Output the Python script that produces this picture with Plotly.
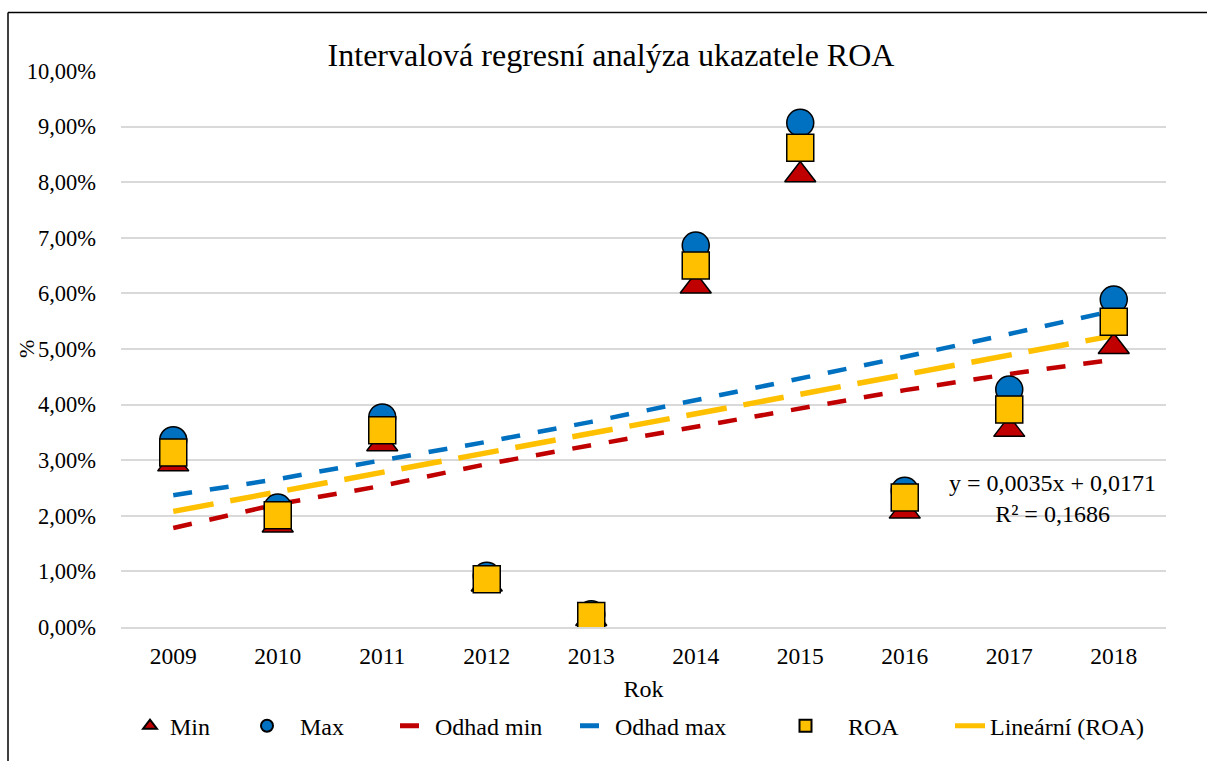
import numpy as np
import plotly.graph_objects as go

years = ["2009", "2010", "2011", "2012", "2013", "2014", "2015", "2016", "2017", "2018"]
roa_min = [0.0293, 0.0183, 0.0329, 0.0077, 0.0015, 0.0613, 0.0813, 0.0208, 0.0355, 0.0504]
roa_max = [0.0336, 0.0215, 0.0377, 0.0092, 0.0023, 0.0686, 0.0907, 0.0245, 0.0427, 0.0589]
roa = [0.0314, 0.0201, 0.0354, 0.0086, 0.0020, 0.0650, 0.0862, 0.0233, 0.0391, 0.0549]
odhad_min = [0.0178, 0.0221, 0.0254, 0.0293, 0.0327, 0.0360, 0.0393, 0.0426, 0.0455, 0.0481]
odhad_max = [0.0237, 0.0266, 0.0300, 0.0333, 0.0369, 0.0408, 0.0445, 0.0486, 0.0527, 0.0569]
y_ticks = [i / 100 for i in range(0, 11)]
equation_text = "y = 0,0035x + 0,0171<br>R² = 0,1686"

RED = "#C00000"
BLUE = "#0070C0"
YEL = "#FFC000"
FONT = "Liberation Serif, Times New Roman, serif"

W, H = 1207, 761
ML, MR, MT, MB = 121, 41, 71, 129
PW = W - ML - MR
PH = H - MT - MB

# linear trendline of ROA (like Excel), x = 1..n
xn = np.arange(1, len(roa) + 1)
k, q = np.polyfit(xn, roa, 1)
roa_trend = list(k * xn + q)

fig = go.Figure()

fig.add_trace(go.Scatter(x=years, y=odhad_min, mode="lines", name="Odhad min", legend="legend3",
                         line=dict(color=RED, width=4.5, dash="19px,18px")))
fig.add_trace(go.Scatter(x=years, y=odhad_max, mode="lines", name="Odhad max", legend="legend4",
                         line=dict(color=BLUE, width=4.5, dash="19px,18px")))
fig.add_trace(go.Scatter(x=years, y=roa_trend, mode="lines", name="Lineární (ROA)", legend="legend6",
                         line=dict(color=YEL, width=5.5, dash="41px,17px")))
fig.add_trace(go.Scatter(x=years, y=roa_min, mode="markers", name="Min", legend="legend",
                         marker=dict(symbol="triangle-up", size=27, color=RED,
                                     line=dict(color="black", width=1.5))))
fig.add_trace(go.Scatter(x=years, y=roa_max, mode="markers", name="Max", legend="legend2",
                         marker=dict(symbol="circle", size=27, color=BLUE,
                                     line=dict(color="black", width=1.5))))
fig.add_trace(go.Scatter(x=years, y=roa, mode="markers", name="ROA", legend="legend5",
                         marker=dict(symbol="square", size=27, color=YEL,
                                     line=dict(color="black", width=1.5))))


def leg(left_px, itemwidth=30):
    return dict(orientation="h", x=(left_px - ML) / PW, xanchor="left",
                y=(H - MB - 732) / PH, yanchor="middle",
                font=dict(family=FONT, size=24), itemsizing="constant",
                bgcolor="rgba(0,0,0,0)", borderwidth=0, itemwidth=itemwidth)


fig.update_layout(
    width=W, height=H,
    margin=dict(l=ML, r=MR, t=MT, b=MB),
    paper_bgcolor="white", plot_bgcolor="white",
    separators=", ",
    font=dict(family=FONT, size=22, color="black"),
    title=dict(text="Intervalová regresní analýza ukazatele ROA", x=611 / W, xanchor="center",
               y=1 - 55 / H, yanchor="middle", font=dict(family=FONT, size=32, color="black")),
    showlegend=True,
    legend=leg(130),
    legend2=leg(234, 56),
    legend3=leg(395),
    legend4=leg(575),
    legend5=leg(763, 75),
    legend6=leg(950),
    xaxis=dict(type="category", range=[-0.5, 9.5], showgrid=False, showline=True,
               linecolor="#D9D9D9", linewidth=1.5,
               ticks="", tickfont=dict(family=FONT, size=23.5), ticklabelstandoff=7,
               title=dict(text="Rok", font=dict(family=FONT, size=24), standoff=12)),
    yaxis=dict(range=[0, 0.10], tickvals=y_ticks, tickformat=".2%", showgrid=True,
               gridcolor="#D9D9D9", gridwidth=1.5, zeroline=False, showline=False, ticks="",
               tickfont=dict(family=FONT, size=22.5), ticklabelstandoff=24),
)

fig.add_annotation(text="%", xref="paper", yref="y", x=(26 - ML) / PW, y=0.05,
                   xanchor="center", yanchor="middle",
                   textangle=-90, showarrow=False, font=dict(family=FONT, size=22))
fig.add_annotation(text=equation_text, xref="paper", yref="y", x=(1052 - ML) / PW, y=0.0232,
                   xanchor="center", yanchor="middle",
                   showarrow=False, align="center", font=dict(family=FONT, size=24))

# chart border (only left and top visible in the reference)
bx = (8 - ML) / PW
by = (H - MB - 12) / PH
fig.add_shape(type="line", xref="paper", yref="paper", x0=bx, x1=1.1, y0=by, y1=by,
              line=dict(color="black", width=1.5), layer="below")
fig.add_shape(type="line", xref="paper", yref="paper", x0=bx, x1=bx, y0=by, y1=-0.3,
              line=dict(color="black", width=1.5), layer="below")

fig.write_html("out.html", config={"displayModeBar": False},
               post_script="document.body.style.margin='0';")
